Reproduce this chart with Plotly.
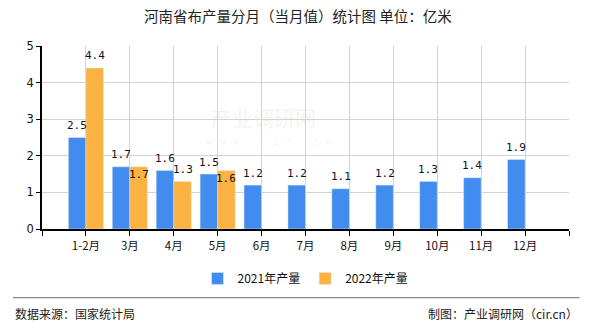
import plotly.graph_objects as go

# Monthly cloth output, Henan (unit: 100 million metres)
months = ["1-2月", "3月", "4月", "5月", "6月", "7月", "8月", "9月", "10月", "11月", "12月"]
output_2021 = [2.5, 1.7, 1.6, 1.5, 1.2, 1.2, 1.1, 1.2, 1.3, 1.4, 1.9]
output_2022 = [4.4, 1.7, 1.3, 1.6]
# value labels of the 2022 series: above the bar, or tucked just inside its top
label_inside_2022 = [False, True, False, True]

BLUE = "#418CEE"
ORANGE = "#FBB242"
CJK = "Noto Sans CJK SC"
MONO = "DejaVu Sans Mono"
BAR_GAP = 0.2
HALF = (1 - BAR_GAP) / 4  # centre offset of each bar within a pair

idx = list(range(len(months)))

fig = go.Figure()
fig.add_trace(go.Bar(x=idx, y=output_2021, name="2021年产量", marker_color=BLUE))
fig.add_trace(go.Bar(x=idx[:len(output_2022)], y=output_2022, name="2022年产量",
                     marker_color=ORANGE))

label_font = dict(family=MONO, size=11, color="#111")
for i, v in zip(idx, output_2021):
    fig.add_annotation(x=i - HALF, y=v, text=f"{v:.1f}", showarrow=False,
                       yanchor="middle", yshift=12, font=label_font)
for i, v, inside in zip(idx, output_2022, label_inside_2022):
    fig.add_annotation(x=i + HALF, y=v, text=f"{v:.1f}", showarrow=False,
                       yanchor="middle", yshift=-8 if inside else 12, font=label_font)

fig.update_layout(
    width=590, height=330,
    margin=dict(l=42, r=21, t=46, b=101),
    paper_bgcolor="white", plot_bgcolor="white",
    barmode="group", bargap=BAR_GAP, bargroupgap=0,
    title=dict(text="河南省布产量分月（当月值）统计图 单位：亿米", x=0.505, xanchor="center",
               y=0.948, yanchor="middle", font=dict(family=CJK, size=14.5, color="#222")),
    font=dict(family=CJK, size=12, color="#222"),
    legend=dict(orientation="h", x=0.5, xanchor="center", y=-0.27, yanchor="middle",
                font=dict(family=CJK, size=12, color="#111"), itemwidth=30),
    showlegend=True,
)
fig.update_xaxes(
    range=[-1, len(months)], tickmode="array",
    tickvals=list(range(-1, len(months) + 1)),
    ticktext=[""] + months + [""],
    showgrid=True, gridcolor="#d3d3d3", gridwidth=1,
    showline=True, linecolor="#000", linewidth=1.5,
    ticks="outside", ticklen=5, tickcolor="#000",
    tickfont=dict(family=CJK, size=11.5, color="#111"), zeroline=False,
)
fig.update_yaxes(
    range=[0, 5], dtick=1,
    showgrid=True, gridcolor="#d3d3d3", gridwidth=1,
    showline=True, linecolor="#000", linewidth=1.5,
    ticks="outside", ticklen=4, tickcolor="#000",
    tickfont=dict(family="DejaVu Sans", size=11.5, color="#111"), zeroline=False,
)

# faint site watermark
fig.add_annotation(text="产业调研网", xref="paper", yref="paper", x=0.42, y=0.61,
                   showarrow=False, font=dict(family=CJK, size=21, color="rgba(225,200,195,0.25)"))
fig.add_annotation(text="w w w . c i r . c n", xref="paper", yref="paper", x=0.43, y=0.48,
                   showarrow=False, font=dict(family=MONO, size=11, color="rgba(205,205,205,0.2)"))

# footer rule and source notes
fig.add_shape(type="line", xref="paper", yref="paper", x0=-0.055, x1=1.02,
              y0=-0.375, y1=-0.375, line=dict(color="#888", width=1.2))
fig.add_annotation(text="数据来源：国家统计局", xref="paper", yref="paper", x=-0.055, y=-0.46,
                   xanchor="left", yanchor="middle", showarrow=False,
                   font=dict(family=CJK, size=12, color="#222"))
fig.add_annotation(text="制图：产业调研网（cir.cn）", xref="paper", yref="paper", x=1.02, y=-0.46,
                   xanchor="right", yanchor="middle", showarrow=False,
                   font=dict(family=CJK, size=12, color="#222"))

fig.write_html("out.html")
